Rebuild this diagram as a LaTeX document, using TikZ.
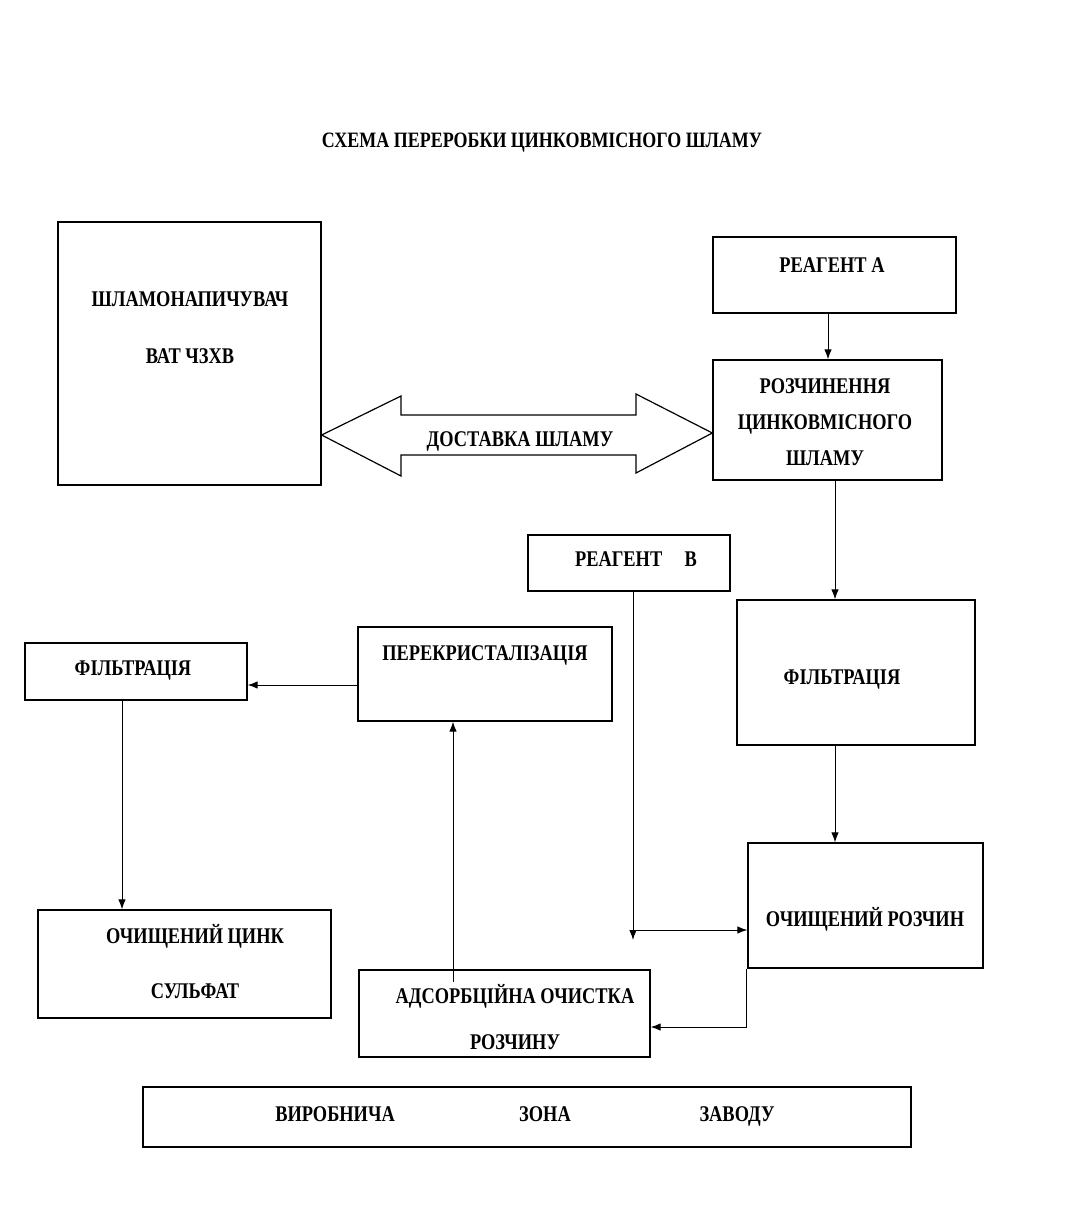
\documentclass[tikz,border=0pt]{standalone}
\usepackage{fontspec}
\setmainfont{Liberation Serif}[FakeStretch=0.82]
\usetikzlibrary{arrows.meta}
\begin{document}
\begin{tikzpicture}[x=1bp,y=-1bp,
  box/.style={draw,line width=1.3bp,inner sep=0pt,anchor=center},
  lbl/.style={font=\bfseries\fontsize{22.5}{26}\selectfont,inner sep=0pt,anchor=base},
  ttl/.style={font=\bfseries\fontsize{22}{26}\selectfont,inner sep=0pt,anchor=base},
  conn/.style={line width=1bp,-{Latex[length=10bp,width=7.5bp]}},
  plain/.style={line width=1bp}]
\useasboundingbox[fill=white] (0,0) rectangle (1088,1216);

\node[ttl] (title) at (542,147.5) {СХЕМА ПЕРЕРОБКИ ЦИНКОВМІСНОГО ШЛАМУ};

% boxes
\node[box,minimum width=263bp,minimum height=263bp] (slam) at (189.5,353.5) {};
\node[box,minimum width=243bp,minimum height=76bp] (reagA) at (834.5,275) {};
\node[box,minimum width=229bp,minimum height=120bp] (rozch) at (827.5,420) {};
\node[box,minimum width=202bp,minimum height=56bp] (reagB) at (629,563) {};
\node[box,minimum width=238bp,minimum height=145bp] (filtR) at (856,672.5) {};
\node[box,minimum width=254bp,minimum height=94bp] (perekr) at (485,674) {};
\node[box,minimum width=222bp,minimum height=57bp] (filtL) at (136,671.5) {};
\node[box,minimum width=235bp,minimum height=125bp] (ochR) at (865.5,905.5) {};
\node[box,minimum width=293bp,minimum height=108bp] (ochZn) at (184.5,964) {};
\node[box,minimum width=291bp,minimum height=87bp] (adsorb) at (504.5,1013.5) {};
\node[box,minimum width=768bp,minimum height=60bp] (zona) at (527,1117) {};

% texts
\node[lbl] (t1) at (190,306) {ШЛАМОНАПИЧУВАЧ};
\node[lbl] (t2) at (190,363) {ВАТ ЧЗХВ};
\node[lbl] (t3) at (832,272) {РЕАГЕНТ А};
\node[lbl] (t4) at (825,393) {РОЗЧИНЕННЯ};
\node[lbl] (t5) at (825,429) {ЦИНКОВМІСНОГО};
\node[lbl] (t6) at (825,465) {ШЛАМУ};
\node[lbl] (t7) at (636,566) {РЕАГЕНТ\quad В};
\node[lbl] (t8) at (485,660) {ПЕРЕКРИСТАЛІЗАЦІЯ};
\node[lbl] (t9) at (133,675) {ФІЛЬТРАЦІЯ};
\node[lbl] (t10) at (842,684) {ФІЛЬТРАЦІЯ};
\node[lbl] (t11) at (865,926) {ОЧИЩЕНИЙ РОЗЧИН};
\node[lbl] (t12) at (195,943) {ОЧИЩЕНИЙ ЦИНК};
\node[lbl] (t13) at (195,998) {СУЛЬФАТ};
\node[lbl] (t14) at (515,1003) {АДСОРБЦІЙНА ОЧИСТКА};
\node[lbl] (t15) at (515,1049) {РОЗЧИНУ};
\node[lbl] (t16) at (335,1121) {ВИРОБНИЧА};
\node[lbl] (t17) at (545,1121) {ЗОНА};
\node[lbl] (t18) at (737,1121) {ЗАВОДУ};

% double arrow
\draw[line width=1.2bp,fill=white] (slam.east |- 0,435) -- (401,396) -- (401,415) -- (636,415) -- (636,394)
  -- (rozch.west |- 0,433) -- (636,473) -- (636,455) -- (401,455) -- (401,476) -- cycle;
\node[lbl] (t0) at (520,446) {ДОСТАВКА ШЛАМУ};

% connectors
\coordinate (bdown) at (633,940);
\coordinate (bjoin) at (633,930);
\coordinate (ochcorner) at (746,1027);
\coordinate (adstop) at (453,982);

\draw[conn] (reagA.south -| 828,0) -- (rozch.north -| 828,0);
\draw[conn] (rozch.south -| 835,0) -- (filtR.north -| 835,0);
\draw[conn] (filtR.south -| 835,0) -- (ochR.north -| 835,0);
\draw[conn] (reagB.south -| bdown) -- (bdown);
\draw[conn] (bjoin) -- (ochR.west |- bjoin);
\draw[conn] (ochR.south west -| ochcorner) -- (ochcorner) -- (adsorb.east |- ochcorner);
\draw[conn] (adstop) -- (perekr.south -| adstop);
\draw[conn] (perekr.west |- 0,685) -- (filtL.east |- 0,685);
\draw[conn] (filtL.south -| 122,0) -- (ochZn.north -| 122,0);
\end{tikzpicture}
\end{document}
